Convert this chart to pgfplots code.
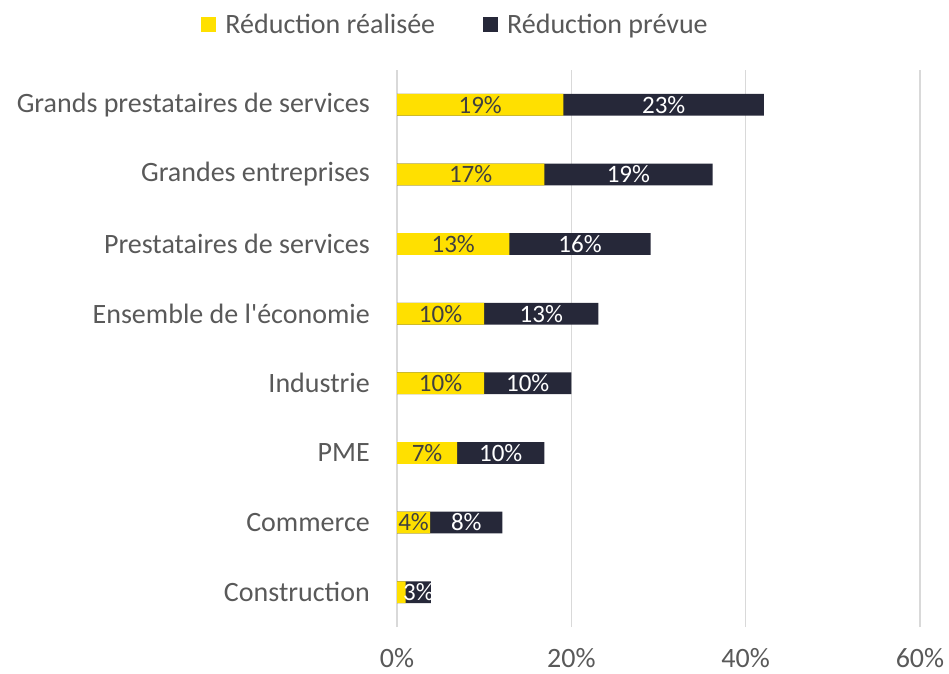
\documentclass[border=0pt]{standalone}
\usepackage{fontspec}
\setmainfont{Carlito}
\usepackage{pgfplots}
\pgfplotsset{compat=1.18}
\usepackage{pgfplotstable}
\definecolor{jaune}{HTML}{FFE000}
\definecolor{marine}{HTML}{262839}
\definecolor{txt}{HTML}{595959}
\definecolor{grille}{HTML}{D9D9D9}
\definecolor{lab}{HTML}{404040}

\pgfplotstableread{
y a b la lb
0 1.0 2.9 1 3
1 3.8 8.3 4 8
2 6.9 10.0 7 10
3 10.0 10.0 10 10
4 10.0 13.1 10 13
5 12.9 16.2 13 16
6 16.9 19.3 17 19
7 19.1 23.0 19 23
}\data

\begin{document}
\begin{tikzpicture}
\path[use as bounding box] (0bp,0bp) rectangle (949bp,674bp);
\begin{axis}[
  at={(397bp,47bp)}, anchor=south west,
  width=523bp, height=557bp, scale only axis,
  xmin=0, xmax=60, ymin=-0.5, ymax=7.5,
  axis line style={draw=none},
  major tick length=0pt,
  xtick={0,20,40,60},
  xticklabels={0\%,20\%,40\%,60\%},
  ytick={0,1,2,3,4,5,6,7},
  yticklabels={Construction,Commerce,PME,Industrie,Ensemble de l\textquotesingle économie,Prestataires de services,Grandes entreprises,Grands prestataires de services},
  xmajorgrids, ymajorgrids=false,
  grid style={color=grille, line width=1.3bp},
  xticklabel style={anchor=center, yshift=-31bp, inner sep=0pt, font=\fontsize{28bp}{32bp}\selectfont, text=txt},
  yticklabel style={anchor=east, xshift=-27bp, inner sep=0pt, font=\fontsize{28bp}{32bp}\selectfont, text=txt},
  legend columns=2,
  legend style={at={(0.112,1.081)}, anchor=center, draw=none, fill=none,
    font=\fontsize{28bp}{32bp}\selectfont, text=txt, inner sep=0pt,
    /tikz/every odd column/.append style={column sep=7bp},
    /tikz/every even column/.append style={column sep=46bp}},
  legend image code/.code={\fill[#1] (0bp,-7.5bp) rectangle (15bp,7.5bp);},
  clip=false,
]
\addplot[xbar, bar width=21.7bp, bar shift=0pt, fill=marine, draw=none, forget plot]
  table[x expr=\thisrow{a}+\thisrow{b}, y=y] {\data};
\addplot[xbar, bar width=21.7bp, bar shift=0pt, fill=jaune, draw=none, forget plot]
  table[x=a, y=y] {\data};
% labels
\addplot[only marks, mark=none, forget plot,
  restrict y to domain=0.5:7.5,
  point meta=explicit symbolic,
  nodes near coords={\pgfplotspointmeta\%}, nodes near coords align=center,
  every node near coord/.append style={anchor=center, text=lab, inner sep=0pt, font=\fontsize{25bp}{29bp}\selectfont}]
  table[x expr=\thisrow{a}/2, y=y, meta=la] {\data};
\addplot[only marks, mark=none, forget plot,
  point meta=explicit symbolic,
  nodes near coords={\pgfplotspointmeta\%}, nodes near coords align=center,
  every node near coord/.append style={anchor=center, text=white, inner sep=0pt, font=\fontsize{25bp}{29bp}\selectfont}]
  table[x expr=\thisrow{a}+\thisrow{b}/2, y=y, meta=lb] {\data};
\addlegendimage{fill=jaune, draw=none}
\addlegendentry{Réduction réalisée}
\addlegendimage{fill=marine, draw=none}
\addlegendentry{Réduction prévue}
\end{axis}
\end{tikzpicture}
\end{document}
